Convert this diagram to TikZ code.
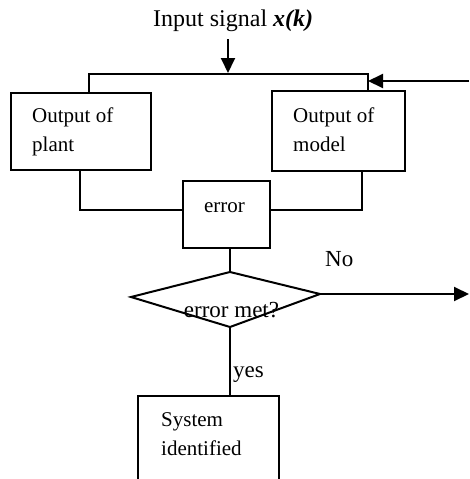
\documentclass[tikz,border=0pt]{standalone}
\usepackage{fontspec}
\setmainfont{Liberation Serif}
\usetikzlibrary{arrows.meta}
\tikzset{
  wire/.style={line width=2pt},
  arrowwire/.style={line width=2pt, -{Triangle[length=15pt,width=14pt]}},
  blockbox/.style={draw, line width=2pt, inner sep=0pt},
  lbl/.style={inner sep=0pt, align=left, font=\fontsize{21}{29}\selectfont},
  freelbl/.style={inner sep=0pt, font=\fontsize{23}{28}\selectfont},
}
\begin{document}
\begin{tikzpicture}[x=1pt,y=-1pt]
  \useasboundingbox (0,0) rectangle (469,479);
  \clip (0,0) rectangle (469,479);

  % title and input arrow
  \node[inner sep=0pt, anchor=base west, font=\fontsize{24}{28}\selectfont] (title) at (153,27) {Input signal \textbf{\textit{x(k)}}};
  \coordinate (inTop) at (228,39);
  \coordinate (inTip) at (228,73);
  \draw[arrowwire] (inTop) -- (inTip);

  % blocks
  \node[blockbox, minimum width=140pt, minimum height=77pt] (plant) at (81,131.5) {};
  \node[blockbox, minimum width=133pt, minimum height=80pt] (model) at (338.5,131) {};
  \node[blockbox, minimum width=87pt, minimum height=67pt] (err) at (226.5,214.5) {};
  \node[blockbox, minimum width=141pt, minimum height=110pt] (sysid) at (208.5,451) {};

  % block texts
  \node[lbl, anchor=north west] (plantT) at (32,108) {Output of\\plant};
  \node[lbl, anchor=north west] (modelT) at (293,108) {Output of\\model};
  \node[lbl, anchor=base] (errT) at (224.5,212) {error};
  \node[lbl, anchor=north west] (sysidT) at (161,412) {System\\identified};

  % distribution bus on top
  \coordinate (busL) at (89,74);
  \coordinate (busR) at (368,74);
  \draw[wire] (plant.north -| busL) -- (busL) -- (busR) -- (model.north -| busR);
  \coordinate (fbIn) at (469,81);
  \coordinate (fbTip) at (368,81);
  \draw[arrowwire] (fbIn) -- (fbTip);

  % outputs into the error block
  \draw[wire] (80,170) -- (80,210) -- (err.west |- 0,210);
  \draw[wire] (err.east |- 0,210) -- (362,210) -- (362,171);

  % decision
  \coordinate (dT) at (230,272);
  \coordinate (dR) at (320,294);
  \coordinate (dB) at (230,327);
  \coordinate (dL) at (131,297);
  \draw[wire, line join=miter] (dT) -- (dR) -- (dB) -- (dL) -- cycle;
  \node[freelbl, anchor=base] (decT) at (231.5,317) {error met?};
  \draw[wire] (err.south -| dT) -- (dT);

  % exits of the decision
  \coordinate (noEnd) at (469,294);
  \draw[arrowwire] (dR) -- (noEnd);
  \node[freelbl, anchor=base west] (noT) at (325,266) {No};
  \draw[wire] (dB) -- (sysid.north -| dB);
  \node[freelbl, anchor=base west] (yesT) at (233,377) {yes};
\end{tikzpicture}
\end{document}
